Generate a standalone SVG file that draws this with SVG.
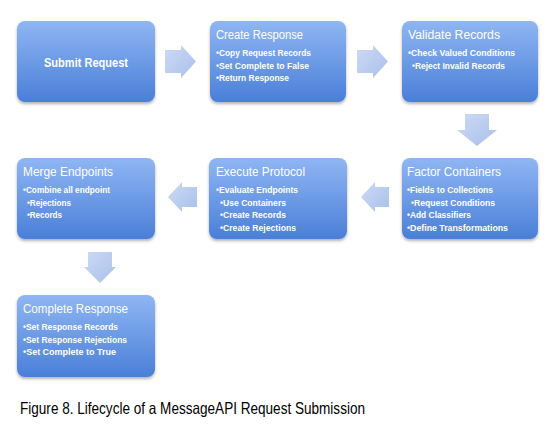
<svg xmlns="http://www.w3.org/2000/svg" width="551" height="435" viewBox="0 0 551 435">
<defs>
<linearGradient id="boxg" x1="0" y1="0" x2="0" y2="1">
<stop offset="0" stop-color="#8fb6f3"/>
<stop offset="1" stop-color="#4a7fd8"/>
</linearGradient>
<linearGradient id="arrg" x1="0" y1="0" x2="1" y2="1">
<stop offset="0" stop-color="#cddaf4"/>
<stop offset="1" stop-color="#a9c0eb"/>
</linearGradient>
<filter id="sh" x="-10%" y="-10%" width="120%" height="130%">
<feDropShadow dx="0" dy="2" stdDeviation="1.5" flood-color="#000" flood-opacity="0.3"/>
</filter>
<style>
.box{fill:url(#boxg);filter:url(#sh);}
.arr{fill:url(#arrg);}
.t{font-family:"Liberation Sans",Arial,sans-serif;fill:#fff;font-size:12.5px;}
.b{font-family:"Liberation Sans",Arial,sans-serif;fill:#fff;font-size:8.8px;font-weight:bold;}
.cap{font-family:"Liberation Sans",Arial,sans-serif;fill:#000;font-size:16.5px;}
</style>
</defs>
<rect width="551" height="435" fill="#fff"/>
<g id="connectors">
<path class="arr" d="M165,50 H181 V45 L196,61.5 L181,78 V73 H165 Z"/>
<path class="arr" d="M357,50 H373 V45 L388,61.5 L373,78 V73 H357 Z"/>
<path class="arr" d="M465,114 H489 V130 H497 L477,146 L457,130 H465 Z"/>
<path class="arr" d="M389,187 H375 V182 L361,197 L375,212 V207 H389 Z"/>
<path class="arr" d="M197,187 H182 V182 L168,197 L182,212 V207 H197 Z"/>
<path class="arr" d="M88,252 H112 V267 H116 L100,283 L84,267 H88 Z"/>
</g>
<g id="submit">
<rect class="box" x="17" y="21" width="138" height="81" rx="8"/>
<text class="t" x="86" y="67" text-anchor="middle" font-weight="bold" textLength="84" lengthAdjust="spacingAndGlyphs">Submit Request</text>
</g>
<g id="create">
<rect class="box" x="210" y="21" width="136" height="81" rx="8"/>
<text class="t" x="216" y="39" textLength="87" lengthAdjust="spacingAndGlyphs">Create Response</text>
<text class="b" x="216" y="56" textLength="95" lengthAdjust="spacingAndGlyphs">•Copy Request Records</text>
<text class="b" x="216" y="68.5" textLength="93" lengthAdjust="spacingAndGlyphs">•Set Complete to False</text>
<text class="b" x="216" y="81" textLength="73" lengthAdjust="spacingAndGlyphs">•Return Response</text>
</g>
<g id="validate">
<rect class="box" x="402" y="21" width="136" height="81" rx="8"/>
<text class="t" x="408" y="39" textLength="92" lengthAdjust="spacingAndGlyphs">Validate Records</text>
<text class="b" x="408" y="56" textLength="107" lengthAdjust="spacingAndGlyphs">•Check Valued Conditions</text>
<text class="b" x="412" y="68.5" textLength="93" lengthAdjust="spacingAndGlyphs">•Reject Invalid Records</text>
</g>
<g id="factor">
<rect class="box" x="402" y="158" width="136" height="81" rx="8"/>
<text class="t" x="407" y="176" textLength="94" lengthAdjust="spacingAndGlyphs">Factor Containers</text>
<text class="b" x="407" y="193" textLength="86" lengthAdjust="spacingAndGlyphs">•Fields to Collections</text>
<text class="b" x="411" y="205.5" textLength="84" lengthAdjust="spacingAndGlyphs">•Request Conditions</text>
<text class="b" x="407" y="218" textLength="64" lengthAdjust="spacingAndGlyphs">•Add Classifiers</text>
<text class="b" x="407" y="230.5" textLength="101" lengthAdjust="spacingAndGlyphs">•Define Transformations</text>
</g>
<g id="execute">
<rect class="box" x="209" y="158" width="138" height="81" rx="8"/>
<text class="t" x="216" y="176" textLength="89" lengthAdjust="spacingAndGlyphs">Execute Protocol</text>
<text class="b" x="216" y="193" textLength="82" lengthAdjust="spacingAndGlyphs">•Evaluate Endpoints</text>
<text class="b" x="220" y="205.5" textLength="66" lengthAdjust="spacingAndGlyphs">•Use Containers</text>
<text class="b" x="220" y="218" textLength="66" lengthAdjust="spacingAndGlyphs">•Create Records</text>
<text class="b" x="220" y="230.5" textLength="76" lengthAdjust="spacingAndGlyphs">•Create Rejections</text>
</g>
<g id="merge">
<rect class="box" x="17" y="158" width="138" height="81" rx="8"/>
<text class="t" x="23" y="176" textLength="90" lengthAdjust="spacingAndGlyphs">Merge Endpoints</text>
<text class="b" x="23" y="193" textLength="87" lengthAdjust="spacingAndGlyphs">•Combine all endpoint</text>
<text class="b" x="27" y="205.5" textLength="44" lengthAdjust="spacingAndGlyphs">•Rejections</text>
<text class="b" x="27" y="218" textLength="35" lengthAdjust="spacingAndGlyphs">•Records</text>
</g>
<g id="complete">
<rect class="box" x="17" y="295" width="138" height="82" rx="8"/>
<text class="t" x="23" y="313" textLength="105" lengthAdjust="spacingAndGlyphs">Complete Response</text>
<text class="b" x="23" y="330" textLength="95" lengthAdjust="spacingAndGlyphs">•Set Response Records</text>
<text class="b" x="23" y="342.5" textLength="104" lengthAdjust="spacingAndGlyphs">•Set Response Rejections</text>
<text class="b" x="23" y="355" textLength="93" lengthAdjust="spacingAndGlyphs">•Set Complete to True</text>
</g>
<text class="cap" x="20" y="414" textLength="345" lengthAdjust="spacingAndGlyphs">Figure 8. Lifecycle of a MessageAPI Request Submission</text>
</svg>
